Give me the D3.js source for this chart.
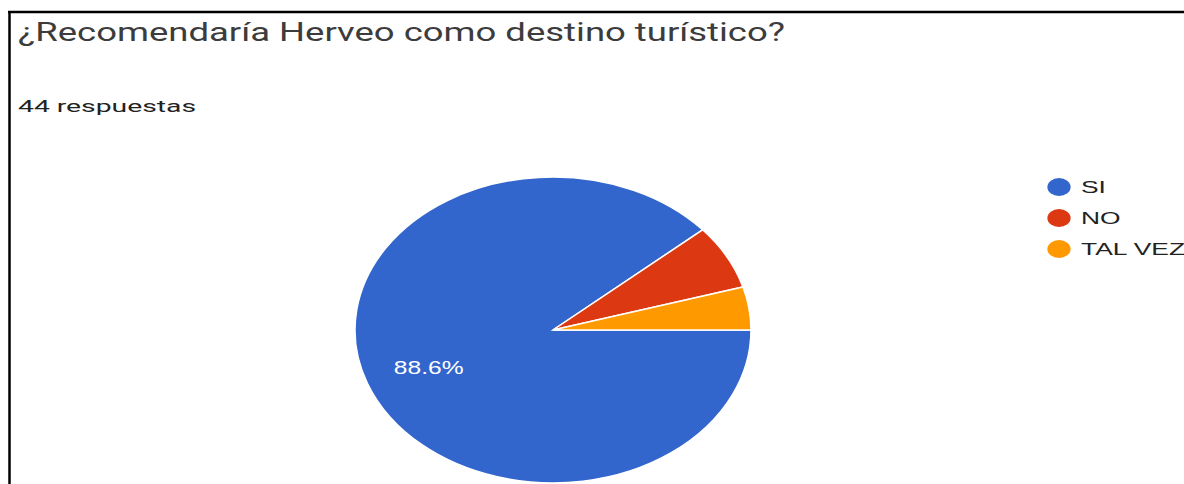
<!DOCTYPE html>
<html>
<head>
<meta charset="utf-8">
<script src="https://cdn.jsdelivr.net/npm/d3@7"></script>
<style>
  body { margin: 0; background: #fff; }
  svg { display: block; font-family: Roboto, Arial, sans-serif; }
</style>
</head>
<body>
<div id="chart"></div>
<script>
// respuestas de la encuesta
var categories = ["SI", "NO", "TAL VEZ"];
var counts = [39, 3, 2];
var colors = ["#3366cc", "#dc3912", "#ff9900"];
var title = "¿Recomendaría Herveo como destino turístico?";
var subtitle = "44 respuestas";

var width = 1184, height = 484;
var sx = 1.294; // the picture is stretched sideways

var svg = d3.select("#chart").append("svg")
    .attr("width", width)
    .attr("height", height);

// frame
svg.append("line").attr("x1", 8).attr("x2", width).attr("y1", 12).attr("y2", 12)
    .attr("stroke", "#000").attr("stroke-width", 2.5);
svg.append("line").attr("x1", 9.5).attr("x2", 9.5).attr("y1", 11).attr("y2", height)
    .attr("stroke", "#000").attr("stroke-width", 2.5);

svg.append("text")
    .attr("x", 18).attr("y", 41)
    .attr("textLength", 767).attr("lengthAdjust", "spacingAndGlyphs")
    .style("font-size", "26px").attr("fill", "#3c3c3c")
    .text(title);

svg.append("text")
    .attr("x", 18).attr("y", 112)
    .attr("textLength", 178).attr("lengthAdjust", "spacingAndGlyphs")
    .style("font-size", "16px").attr("fill", "#222")
    .text(subtitle);

// pie
var r = 153;
var pie = d3.pie().sort(null)
    .startAngle(Math.PI / 2)
    .endAngle(Math.PI / 2 + 2 * Math.PI);
var arcs = pie(counts);
var arc = d3.arc().innerRadius(0).outerRadius(r);
var labelArc = d3.arc().innerRadius(r * 0.67).outerRadius(r * 0.67);
var total = d3.sum(counts);

var g = svg.append("g")
    .attr("transform", "translate(553,330) scale(" + sx + ",1)");

g.selectAll("path").data(arcs).enter().append("path")
    .attr("d", arc)
    .attr("fill", function(d, i){ return colors[i]; })
    .attr("stroke", "#fff")
    .attr("stroke-width", 1.5)
    .attr("vector-effect", "non-scaling-stroke");

g.selectAll(".lbl").data(arcs).enter()
    .filter(function(d){ return d.value / total > 0.1; })
    .append("text")
    .attr("class", "lbl")
    .attr("transform", function(d){ return "translate(" + labelArc.centroid(d) + ")"; })
    .attr("text-anchor", "middle")
    .attr("dy", "0.45em")
    .attr("fill", "#fff")
    .style("font-size", "19px")
    .style("font-family", "Arial, 'Liberation Sans', sans-serif")
    .text(function(d){ return (d.value / total * 100).toFixed(1) + "%"; });

// legend
var leg = svg.selectAll(".leg").data(categories).enter().append("g")
    .attr("class", "leg")
    .attr("transform", function(d, i){ return "translate(1059," + (187 + i * 31) + ") scale(" + sx + ",1)"; });

leg.append("circle").attr("r", 9)
    .attr("fill", function(d, i){ return colors[i]; });

leg.append("text")
    .attr("transform", "translate(17,0) scale(1.2,1)")
    .attr("dy", "0.36em")
    .attr("fill", "#222")
    .style("font-size", "17px")
    .style("font-family", "Arial, 'Liberation Sans', sans-serif")
    .text(function(d){ return d; });
</script>
</body>
</html>
